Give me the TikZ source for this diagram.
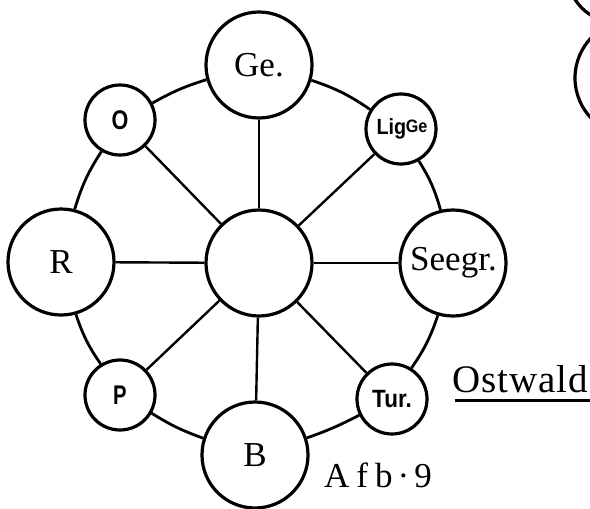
\documentclass[tikz,border=0pt]{standalone}
\usepackage{fontspec}
\setmainfont{Liberation Serif}
\newfontfamily\handfont{Liberation Sans}
\begin{document}
\begin{tikzpicture}[x=1pt,y=-1pt,
  ring/.style={draw,circle,inner sep=0pt,fill=white,line width=3.2pt},
  big/.style={ring,minimum size=106pt,font=\fontsize{35}{35}\selectfont},
  small/.style={ring,minimum size=70pt,font=\handfont\bfseries\fontsize{27}{27}\selectfont},
  spoke/.style={line width=2.4pt},
  rim/.style={line width=2.8pt}]
\useasboundingbox (0,0) rectangle (590,509);
\clip (0,0) rectangle (590,509);

% outer circles
\node[big]   (c)  at (259,263) {};
\node[big]   (ge) at (259,65)  {Ge.};
\node[small] (o)  at (120,120) {\scalebox{0.8}[1]{O}};
\node[small] (lg) at (401,129) {\kern2pt\scalebox{0.9}[1]{\fontsize{22}{22}\selectfont Lig\kern-0.5pt\raisebox{2pt}{\fontsize{18}{18}\selectfont Ge}}};
\node[big]   (r)  at (61,262)  {R};
\node[big]   (se) at (453,263) {\kern1pt Seegr.};
\node[small] (p)  at (120,395) {\scalebox{0.75}[1]{P}};
\node[small] (tu) at (392,399) {\scalebox{0.9}[1]{\fontsize{25}{25}\selectfont Tur.}};
\node[big]   (b)  at (255,455) {B};

% spokes
\foreach \n in {ge,o,lg,r,se,p,tu,b}
  \draw[spoke] (c) -- (\n);

% rim
\draw[rim] (ge) to[bend left=8] (lg);
\draw[rim] (lg) to[bend left=8] (se);
\draw[rim] (se) to[bend left=8] (tu);
\draw[rim] (tu) to[bend left=4] (b);
\draw[rim] (b)  to[bend left=6] (p);
\draw[rim] (p)  to[bend left=8] (r);
\draw[rim] (r)  to[bend left=8] (o);
\draw[rim] (o)  to[bend left=6] (ge);

% captions
\node[anchor=base west,font=\fontsize{39}{39}\selectfont,inner sep=0pt] (ow) at (452,392) {O\kern1pt s\kern1pt t\kern1pt w\kern1pt a\kern1pt l\kern1pt d};
\coordinate (ul) at (455,400);
\coordinate (ur) at (590,400);
\draw[line width=3pt] (ul) -- (ur);
\node[anchor=base west,font=\fontsize{35}{35}\selectfont,inner sep=0pt] (afb) at (324,487) {A\kern7pt f\kern7pt b\kern5pt·\kern5pt 9};

% circles of the neighbouring figure
\draw[line width=3.2pt] (633,78) circle[radius=58];
\draw[line width=3.2pt] (618,-28) circle[radius=51];
\end{tikzpicture}
\end{document}
